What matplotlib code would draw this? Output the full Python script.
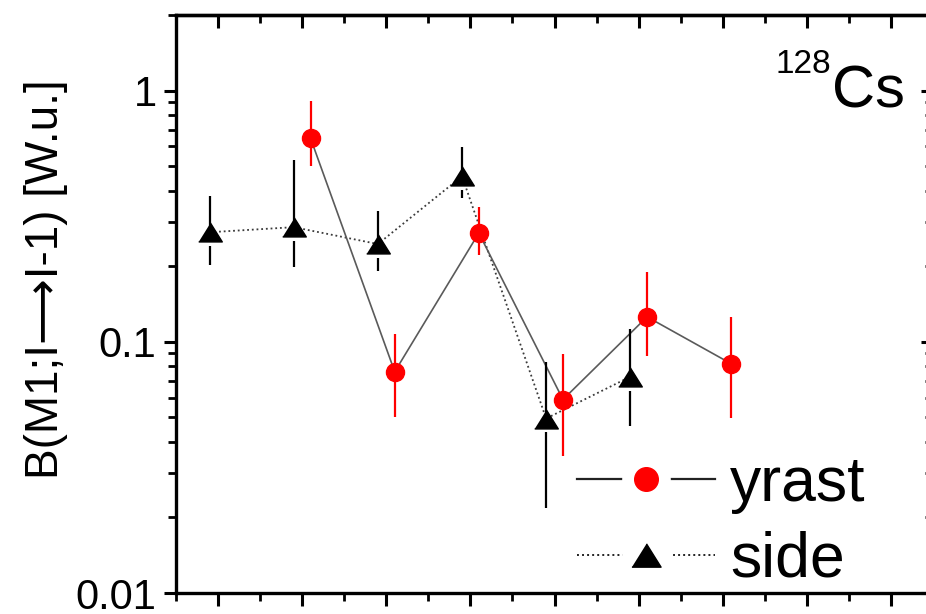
import matplotlib
matplotlib.use("Agg")
import matplotlib.pyplot as plt
from matplotlib.lines import Line2D
from matplotlib.legend_handler import HandlerTuple
from matplotlib.ticker import MultipleLocator, LogLocator, NullFormatter, FixedLocator

plt.rcParams['font.family'] = ['Liberation Sans', 'DejaVu Sans']

# spin positions (major ticks at integers, small offsets as in the figure)
side_x = [-0.1, 0.9, 1.9, 2.9, 3.9, 4.9]
side_b = [0.273, 0.286, 0.245, 0.456, 0.0495, 0.0726]
side_lo = [0.202, 0.199, 0.191, 0.373, 0.0217, 0.0464]
side_hi = [0.379, 0.527, 0.331, 0.599, 0.0833, 0.1126]

yrast_x = [1.1, 2.1, 3.1, 4.1, 5.1, 6.1]
yrast_b = [0.645, 0.0760, 0.271, 0.0589, 0.1257, 0.0818]
yrast_lo = [0.499, 0.0504, 0.221, 0.0350, 0.0880, 0.0499]
yrast_hi = [0.912, 0.1076, 0.343, 0.0896, 0.1896, 0.1257]

x_major = list(range(0, 9))
y_major = [0.01, 0.1, 1]
y_labels = ['0.01', '0.1', '1']

fig = plt.figure(figsize=(9.26, 6.14), dpi=100)
ax = fig.add_axes([0.1901, 0.0342, 0.8175, 0.9414])

tri = [(-1, -0.8), (1, -0.8), (0, 0.8)]

# side band: dotted line, triangles, error bars with a gap under the marker
ax.plot(side_x, side_b, color='#3a3a3a', lw=1.3, ls=(0, (1, 1.6)), zorder=2)
gap = 10 ** (-14 / 252)
ax.vlines(side_x, side_b, side_hi, color='black', lw=1.6, zorder=3)
ax.vlines(side_x, side_lo, [b * gap for b in side_b], color='black', lw=1.6, zorder=3)
ax.plot(side_x, side_b, ls='none', marker=tri, ms=17, color='black', zorder=4)

# yrast band
ax.plot(yrast_x, yrast_b, color='#5a5a5a', lw=1.2, zorder=2)
ax.vlines(yrast_x, yrast_lo, yrast_hi, color='red', lw=1.6, zorder=5)
ax.plot(yrast_x, yrast_b, ls='none', marker='o', ms=13, color='red', zorder=6)

ax.set_yscale('log')
ax.set_ylim(0.01, 2)
ax.set_xlim(-0.5, 8.5)

ax.yaxis.set_major_locator(FixedLocator(y_major))
ax.set_yticklabels(y_labels)
ax.yaxis.set_minor_locator(LogLocator(base=10, subs=range(2, 10)))
ax.yaxis.set_minor_formatter(NullFormatter())
ax.xaxis.set_major_locator(FixedLocator(x_major))
ax.xaxis.set_minor_locator(MultipleLocator(0.5))

for s in ax.spines.values():
    s.set_linewidth(2.4)
ax.tick_params(which='major', direction='out', length=9, width=2.2, labelsize=30, pad=5,
               labelbottom=False)
ax.tick_params(which='minor', direction='out', length=6, width=2.0)

# inward ticks on top and right
top = ax.secondary_xaxis('top')
top.xaxis.set_major_locator(FixedLocator(x_major))
top.xaxis.set_minor_locator(MultipleLocator(0.5))
top.tick_params(which='major', direction='in', length=9, width=2.2, labeltop=False)
top.tick_params(which='minor', direction='in', length=6, width=2.0)
top.spines['top'].set_linewidth(2.4)
right = ax.secondary_yaxis('right')
right.yaxis.set_major_locator(FixedLocator(y_major))
right.yaxis.set_minor_locator(LogLocator(base=10, subs=range(2, 10)))
right.yaxis.set_minor_formatter(NullFormatter())
right.tick_params(which='major', direction='in', length=9, width=2.2, labelright=False)
right.tick_params(which='minor', direction='in', length=6, width=2.0)

ax.set_ylabel('B(M1;I\u27f6I-1) [W.u.]', fontsize=33, va='center')
ax.yaxis.set_label_coords(-0.172, 0.543)

fig.text(0.9773, 0.8257, 'Cs', fontsize=43, ha='right', va='baseline')
fig.text(0.8974, 0.881, '128', fontsize=24, ha='right', va='baseline')

# legend with a gap between the line and the symbol
h_y = (Line2D([], [], color='#222222', lw=1.6),
       Line2D([], [], ls='none', marker='o', ms=34, color='white'),
       Line2D([], [], ls='none', marker='o', ms=17, color='red'))
h_s = (Line2D([], [], color='#222222', lw=1.4, ls=(0, (1, 1.6))),
       Line2D([], [], ls='none', marker='o', ms=34, color='white'),
       Line2D([], [], ls='none', marker=tri, ms=21, color='black'))
leg = fig.legend([h_y, h_s], ['yrast', 'side'],
                 handler_map={tuple: HandlerTuple(ndivide=1, pad=0)},
                 loc='upper left', bbox_to_anchor=(577 / 926, 1 - 455 / 614),
                 frameon=False, fontsize=45, numpoints=1, handlelength=2.2,
                 handletextpad=0.25, labelspacing=0.27, borderpad=0, borderaxespad=0)

fig.savefig('out.png', dpi=100)
